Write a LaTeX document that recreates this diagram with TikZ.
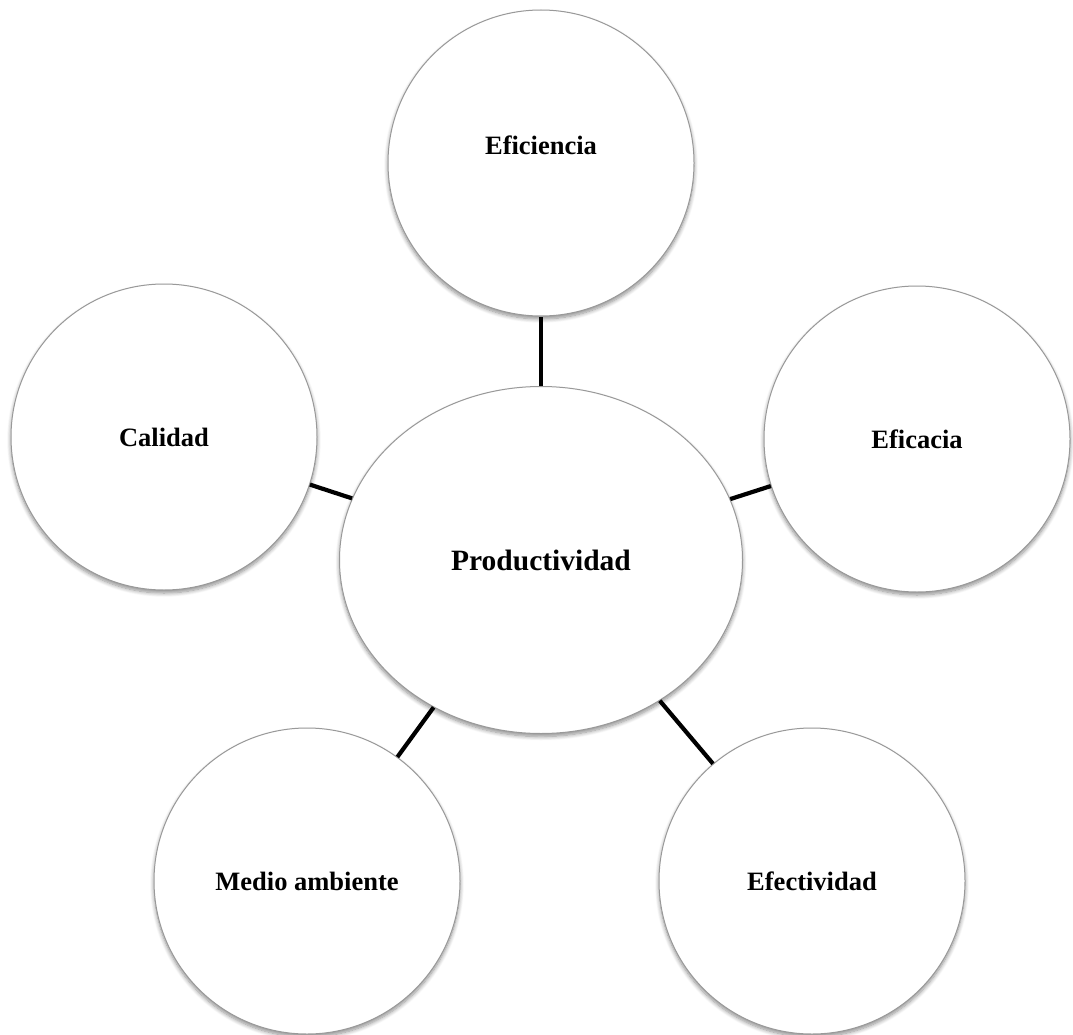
\documentclass[tikz,border=0pt]{standalone}
\usepackage{fontspec}
\setmainfont{Liberation Serif}
\usetikzlibrary{shapes.geometric,shadows.blur}

\tikzset{
  bubble/.style={circle, draw=gray!80, line width=1pt, fill=white,
    minimum size=306pt, inner sep=0pt,
    font=\bfseries\fontsize{26.5}{30}\selectfont,
    blur shadow={shadow xshift=0pt, shadow yshift=-3pt,
      shadow blur radius=4pt, shadow blur steps=8, shadow opacity=45}},
  hub/.style={ellipse, draw=gray!80, line width=1pt, fill=white,
    minimum width=403pt, minimum height=347pt, inner sep=0pt,
    font=\bfseries\fontsize{29.5}{34}\selectfont,
    blur shadow={shadow xshift=0pt, shadow yshift=-3pt,
      shadow blur radius=4pt, shadow blur steps=8, shadow opacity=45}},
  link/.style={line width=4.2pt, black}
}

\begin{document}
\begin{tikzpicture}[x=1pt, y=-1pt]
  \useasboundingbox (0,0) rectangle (1073,1035);

  % central concept
  \node[hub] (prod) at (541,560) {Productividad};

  % surrounding concepts
  \node[bubble] (efic)  at (541,163) {};
  \node[font=\bfseries\fontsize{26.5}{30}\selectfont] (eficlabel) at (541,145) {Eficiencia};
  \node[bubble] (cal)   at (164,437) {Calidad};
  \node[bubble] (eca)   at (917,439) {Eficacia};
  \node[bubble] (medio) at (307,881) {Medio ambiente};
  \node[bubble] (efec)  at (812,881) {Efectividad};

  % spokes
  \draw[link] (prod) -- (efic);
  \draw[link] (prod) -- (cal);
  \draw[link] (prod) -- (eca);
  \draw[link] (prod) -- (medio);
  \draw[link] (prod) -- (efec);
\end{tikzpicture}
\end{document}
